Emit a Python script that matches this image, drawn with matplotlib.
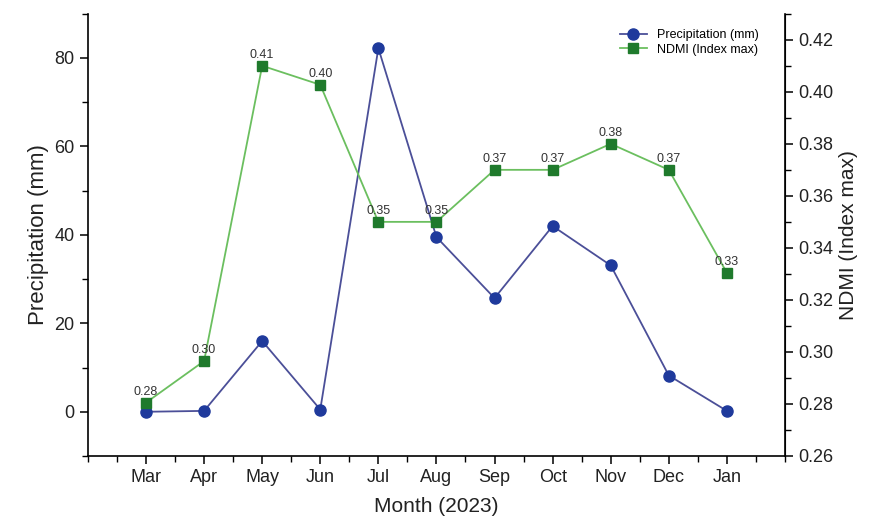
import matplotlib.pyplot as plt
from matplotlib.ticker import MultipleLocator

plt.rcParams["font.family"] = ["Liberation Sans", "DejaVu Sans"]

months = ["Mar", "Apr", "May", "Jun", "Jul", "Aug", "Sep", "Oct", "Nov", "Dec", "Jan"]
precip = [0.0, 0.2, 16.0, 0.5, 82.2, 39.5, 25.7, 42.0, 33.1, 8.2, 0.2]
ndmi = [0.2805, 0.2965, 0.410, 0.4027, 0.350, 0.350, 0.370, 0.370, 0.380, 0.370, 0.3304]

x = list(range(len(months)))

fig = plt.figure(figsize=(8.88, 5.29), dpi=100)
ax = fig.add_axes([0.099, 0.138, 0.785, 0.836])
ax2 = ax.twinx()

# precipitation on the left axis
l1, = ax.plot(x, precip, color="#4b4f98", linewidth=1.3, marker="o",
              markersize=8, markerfacecolor="#1f3a9c", markeredgecolor="#1f3a9c",
              label="Precipitation (mm)", zorder=3)

# NDMI on the right axis
l2, = ax2.plot(x, ndmi, color="#6bbf5f", linewidth=1.3, marker="s",
               markersize=6.5, markerfacecolor="#1f7a2c", markeredgecolor="#1f7a2c",
               label="NDMI (Index max)", zorder=3)

for xi, v in zip(x, ndmi):
    ax2.annotate(f"{v:.2f}", (xi, v), xytext=(0, 3.5), textcoords="offset points",
                 ha="center", va="bottom", fontsize=9, color="#333333")

ax.set_xlim(-1, 11)
ax.set_ylim(-10, 90)
ax2.set_ylim(0.26, 0.43)

ax.set_xticks(x)
ax.set_xticklabels(months)
ax.xaxis.set_minor_locator(MultipleLocator(0.5))
ax.yaxis.set_major_locator(MultipleLocator(20))
ax.yaxis.set_minor_locator(MultipleLocator(10))
ax2.yaxis.set_major_locator(MultipleLocator(0.02))
ax2.yaxis.set_minor_locator(MultipleLocator(0.01))
ax2.yaxis.set_major_formatter(plt.FormatStrFormatter("%.2f"))

for a in (ax, ax2):
    a.spines["top"].set_visible(False)
    a.tick_params(which="major", direction="out", length=6, width=1.1,
                  labelsize=13, labelcolor="#222222")
    a.tick_params(which="minor", direction="out", length=4, width=1.0)
ax2.spines["left"].set_visible(False)
ax2.spines["bottom"].set_visible(False)
for s in ("left", "bottom"):
    ax.spines[s].set_linewidth(1.2)
ax2.spines["right"].set_linewidth(1.2)

ax.set_xlabel("Month (2023)", fontsize=15, labelpad=8, color="#222222")
ax.set_ylabel("Precipitation (mm)", fontsize=16, color="#222222")
ax2.set_ylabel("NDMI (Index max)", fontsize=15, color="#222222")

ax2.legend(handles=[l1, l2], loc="upper right", bbox_to_anchor=(0.975, 0.985),
           frameon=False, fontsize=9, handlelength=2.2, borderaxespad=0.3,
           labelspacing=0.2)

fig.savefig("out.png", dpi=100)
